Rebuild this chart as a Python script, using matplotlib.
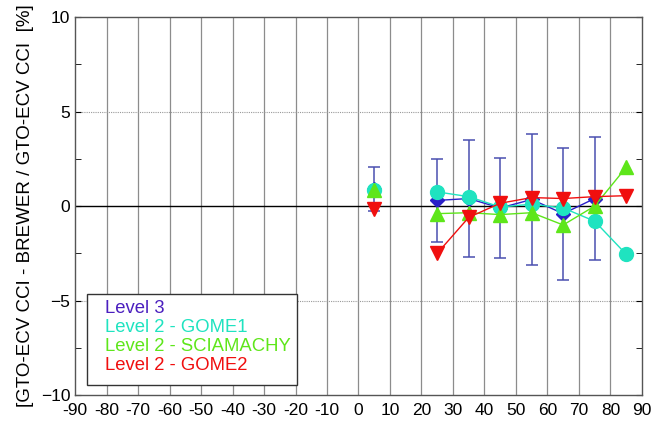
import numpy as np
import matplotlib
matplotlib.use("Agg")
import matplotlib.pyplot as plt

plt.rcParams['font.family'] = ['Liberation Sans', 'DejaVu Sans']

lat = [5, 15, 25, 35, 45, 55, 65, 75, 85]
nan = np.nan
level3 = [0.9, nan, 0.3, 0.4, -0.1, 0.35, -0.4, 0.4, nan]
level3_err = [1.15, nan, 2.2, 3.1, 2.65, 3.45, 3.5, 3.25, nan]
gome1 = [0.85, nan, 0.75, 0.5, -0.05, 0.1, -0.1, -0.8, -2.55]
sciamachy = [0.85, nan, -0.4, -0.35, -0.45, -0.35, -1.0, 0.0, 2.05]
gome2 = [-0.15, nan, -2.5, -0.6, 0.15, 0.45, 0.4, 0.5, 0.55]

xticks = list(range(-90, 91, 10))
yticks = [-10, -5, 0, 5, 10]
ylabel = "[GTO-ECV CCI - BREWER / GTO-ECV CCI  [%]"
legend_labels = ["Level 3", "Level 2 - GOME1", "Level 2 - SCIAMACHY", "Level 2 - GOME2"]

c_l3 = "#2a1fc8"
c_l3_txt = "#4b1fbf"
c_err = "#4a4fb0"
c_g1 = "#1fe3c0"
c_sc = "#5ee61a"
c_g2 = "#f00f0f"

fig = plt.figure(figsize=(6.53, 4.28), dpi=100)
ax = fig.add_axes([0.115, 0.077, 0.868, 0.883])

ax.set_xlim(-90, 90)
ax.set_ylim(-10, 10)
for x in xticks[1:-1]:
    ax.axvline(x, color="#8c8c8c", lw=0.9, zorder=1)
ax.axhline(0, color="black", lw=1.0, zorder=1)
for y in (-5, 5):
    ax.axhline(y, color="#9a9a9a", lw=0.8, ls=(0, (1, 1)), zorder=1)

ax.errorbar(lat, level3, yerr=level3_err, fmt="none", ecolor=c_err, elinewidth=1.1,
            capsize=4, capthick=1.1, zorder=2)
ax.plot(lat, level3, color=c_l3, marker="D", ms=7, lw=1.0, zorder=3)
ax.plot(lat, gome1, color=c_g1, marker="o", ms=10, lw=1.0, zorder=4)
ax.plot(lat, sciamachy, color=c_sc, marker="^", ms=10, lw=1.0, zorder=5)
ax.plot(lat, gome2, color=c_g2, marker="v", ms=10, lw=1.0, zorder=6)

ax.set_xticks(xticks)
ax.set_xticklabels([str(v) for v in xticks])
ax.set_yticks(yticks)
ax.set_yticks([-7.5, -2.5, 2.5, 7.5], minor=True)
ax.tick_params(axis="both", which="major", labelsize=12.5, direction="in", length=4,
               right=True, top=False)
ax.tick_params(axis="y", which="minor", direction="in", length=4, right=True)
ax.tick_params(axis="x", which="major", length=0, pad=6)
ax.set_ylabel(ylabel, fontsize=13.5, labelpad=5)
for s in ax.spines.values():
    s.set_color("#555555")
    s.set_linewidth(1.0)

# legend box (text only)
lx0, ly0 = -86.3, -9.47
bw, bh = 66.8, 4.8
rect = plt.Rectangle((lx0, ly0), bw, bh, facecolor="white", edgecolor="#333333",
                     lw=1.0, zorder=7)
ax.add_patch(rect)
cols = [c_l3_txt, c_g1, c_sc, c_g2]
for i, (lab, c) in enumerate(zip(legend_labels, cols)):
    ax.text(lx0 + 5.8, ly0 + bh - 0.3 - i * 1.0, lab, color=c, fontsize=13.3,
            va="top", ha="left", zorder=8)

fig.savefig("out.png", dpi=100)
